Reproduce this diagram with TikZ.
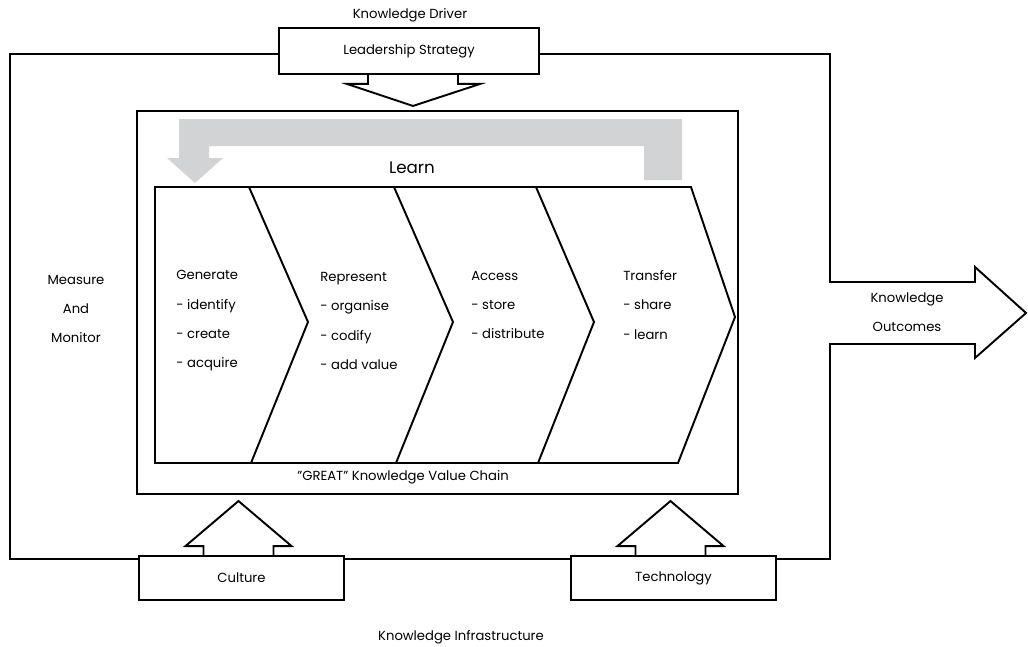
\documentclass[tikz,border=0pt]{standalone}
\usepackage{fontspec}
\setmainfont{Poppins}

\definecolor{learngray}{RGB}{209,211,213}
\tikzset{
    frame/.style={line width=1.1pt},
    txt/.style={inner sep=0pt, font=\fontsize{7.5}{16.7}\selectfont},
    box/.style={draw, line width=1.1pt, minimum width=4.1cm, minimum height=0.88cm, txt},
    stage/.style={txt, anchor=west, align=left}
}

\begin{document}
\begin{tikzpicture}[x=0.02cm, y=-0.02cm]
    \useasboundingbox (0, 0) rectangle (1028, 646);

    \draw (410, 15) node[txt] (driver) {Knowledge Driver};
    \draw (409, 51) node[box, minimum width=5.2cm, minimum height=0.92cm] (lead) {Leadership Strategy};
    \draw (241.5, 578) node[box] (culture) {Culture};
    \draw (673.5, 578) node[box] (tech) {Technology};
    \draw (461, 637) node[txt] (infra) {Knowledge Infrastructure};

    \coordinate (nw) at (10, 54);
    \coordinate (sw) at (10, 559);
    \coordinate (se) at (830, 559);
    \coordinate (ne) at (830, 54);
    \draw[frame] (lead.west |- nw) -- (nw) -- (sw) -- (culture.west |- sw);
    \draw[frame] (culture.east |- sw) -- (tech.west |- sw);
    \draw[frame] (tech.east |- sw) -- (se) -- (830, 344) -- (975, 344) -- (975, 358) -- (1026, 313)
        -- (975, 267) -- (975, 282) -- (830, 282) -- (ne) -- (lead.east |- ne);
    \draw (76, 309) node[txt, align=center] (measure) {Measure\\And\\Monitor};
    \draw (907, 312) node[txt, align=center] (outcomes) {Knowledge\\Outcomes};

    \draw[frame, shift={(lead.south)}] (-41, 0) -- (-41, 9) -- (-62, 9) -- (4, 31) -- (71, 9) -- (49, 9) -- (49, 0);
    \foreach \base in {culture, tech}{
        \draw[frame, shift={(\base.north)}] (-38, 0) -- (-38, -9) -- (-56, -9) -- (-3, -54) -- (50, -9) -- (32, -9) -- (32, 0);
    }

    \draw[frame] (137, 111) rectangle (738, 494);
    \fill[learngray] (682, 119) -- (682, 180) -- (644, 180) -- (644, 146) -- (209, 146) -- (209, 158)
        -- (223, 158) -- (195, 183) -- (167, 158) -- (179, 158) -- (179, 119) -- cycle;
    \draw (412, 168) node[txt, font=\fontsize{9.5}{11}\selectfont] (learn) {Learn};

    \draw[frame] (155, 187) -- (691, 187) -- (735, 317) -- (678, 463) -- (155, 463) -- cycle;
    \foreach \top/\tip/\bot in {249/308/251, 394/453/396, 536/594/538}{
        \draw[frame] (\top, 187) -- (\tip, 322) -- (\bot, 463);
    }
    \draw (176, 321) node[stage] (generate) {Generate\\- identify\\- create\\- acquire};
    \draw (320, 321) node[stage] (represent) {Represent\\- organise\\- codify\\- add value};
    \draw (471, 305) node[stage] (access) {Access\\- store\\- distribute};
    \draw (623, 305) node[stage] (transfer) {Transfer\\- share\\- learn};
    \draw (403, 477) node[txt] (chain) {\symbol{34}GREAT\symbol{34} Knowledge Value Chain};
\end{tikzpicture}
\end{document}
